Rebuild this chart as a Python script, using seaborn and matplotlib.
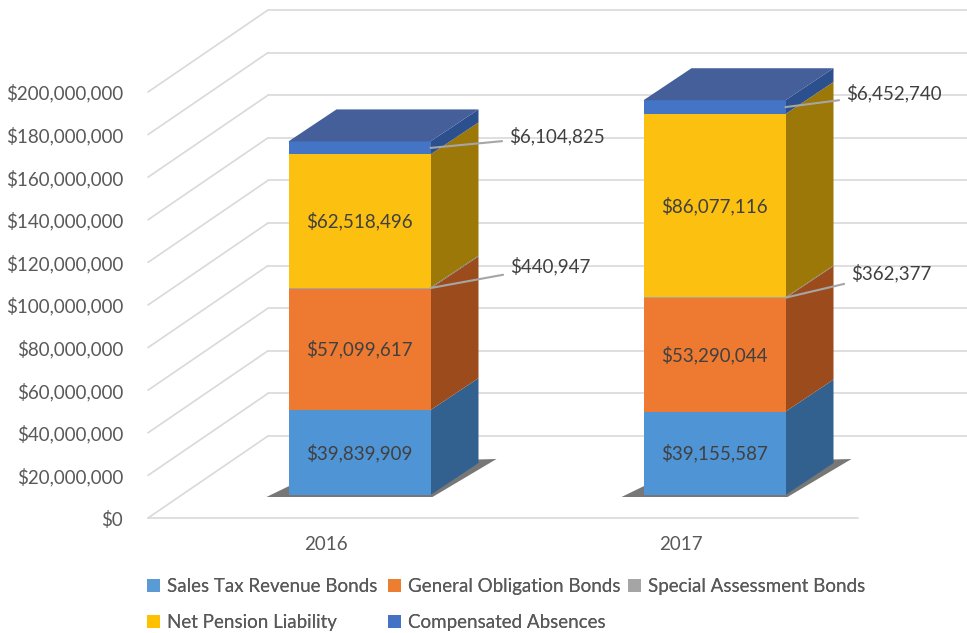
import numpy as np
import pandas as pd
import matplotlib
matplotlib.use("Agg")
import matplotlib.pyplot as plt
import matplotlib.transforms as mtransforms
from matplotlib.patches import Patch
import seaborn as sns

# ---------------- data ----------------
years = ["2016", "2017"]
series_names = ["Sales Tax Revenue Bonds", "General Obligation Bonds",
                "Special Assessment Bonds", "Net Pension Liability",
                "Compensated Absences"]
sales_tax = [39839909, 39155587]
general_obligation = [57099617, 53290044]
special_assessment = [440947, 362377]
net_pension = [62518496, 86077116]
compensated = [6104825, 6452740]
y_ticks = list(range(0, 200000001, 20000000))

series_values = [sales_tax, general_obligation, special_assessment, net_pension, compensated]

# ---------------- style ----------------
front_colors = ["#4f95d6", "#ee7a32", "#a5a5a5", "#fbc010", "#4474c6"]
side_colors = ["#33618f", "#9c4c1c", "#6e6e6e", "#9c7808", "#2c4f8e"]
top_color = "#445f99"
legend_colors = ["#5b9bd5", "#ed7d31", "#a5a5a5", "#ffc000", "#4472c4"]
inside_label = [True, True, False, True, False]
# external label offsets in pixels (per year) for the small series
ext_offsets = {2: [(80, 22), (66, 25)], 4: [(79, 12), (61, 14)]}

sns.set_theme(style="white")
plt.rcParams["font.family"] = ["Lato", "DejaVu Sans"]
FS = 13.5

W, H, DPI = 967, 633, 100
fig = plt.figure(figsize=(W / DPI, H / DPI), dpi=DPI)
ax_left, ax_right, ax_bottom, ax_top = 148, 858, 518, 92
ax = fig.add_axes([ax_left / W, (H - ax_bottom) / H, (ax_right - ax_left) / W, (ax_bottom - ax_top) / H])

SX = (ax_right - ax_left) / 2.0          # px per category unit
SY = (ax_bottom - ax_top) / 200e6        # px per dollar

# offset of the bar front plane and of the back wall relative to the axis front plane (pixels)
bar_tr = mtransforms.offset_copy(ax.transData, fig=fig, x=34, y=23, units="dots")
wall_tr = mtransforms.offset_copy(ax.transData, fig=fig, x=120, y=82, units="dots")
depth_x = 48 / SX
depth_y = 32 / SY
bar_w = 0.4

# cumulative stacks
vals = np.array(series_values, dtype=float)      # (series, year)
cum_top = np.cumsum(vals, axis=0)
cum_bot = cum_top - vals

# ---------------- grid (walls) ----------------
grid_c = "#d9d9d9"
for v in y_ticks:
    ax.plot([-0.5, 2.2], [v, v], transform=wall_tr, color=grid_c, lw=1.2, clip_on=False, zorder=0.5)
    ax.plot([-0.5, -0.5 + 120 / SX], [v, v + 82 / SY], color=grid_c, lw=1.2, clip_on=False, zorder=0.5)
ax.plot([-0.5, 1.5], [0, 0], color=grid_c, lw=1.2, clip_on=False, zorder=0.6)

# ---------------- shadows ----------------
for j in range(len(years)):
    xl, xr = j - bar_w / 2, j + bar_w / 2
    sx = [xl - 22 / SX, xr + 2 / SX, xr + depth_x + 18 / SX, xl + depth_x]
    sy = [-2 / SY, -2 / SY, depth_y + 4 / SY, depth_y]
    ax.fill(sx, sy, color="#4a4a4a", alpha=0.75, lw=0, transform=bar_tr, clip_on=False, zorder=1)

# ---------------- front faces (seaborn bars, layered cumulative) ----------------
for i in reversed(range(len(series_names))):
    df = pd.DataFrame({"year": years, "value": cum_top[i]})
    sns.barplot(data=df, x="year", y="value", color=front_colors[i], saturation=1,
                width=bar_w, errorbar=None, linewidth=0, ax=ax, transform=bar_tr,
                zorder=3 + (len(series_names) - i) * 0.01, clip_on=False)

# ---------------- side and top faces ----------------
for j in range(len(years)):
    xl, xr = j - bar_w / 2, j + bar_w / 2
    for i in range(len(series_names)):
        y0, y1 = cum_bot[i, j], cum_top[i, j]
        ax.fill([xr, xr + depth_x, xr + depth_x, xr], [y0, y0 + depth_y, y1 + depth_y, y1],
                color=side_colors[i], lw=0, transform=bar_tr, clip_on=False, zorder=2.9)
    T = cum_top[-1, j]
    ax.fill([xl, xl + depth_x, xr + depth_x, xr], [T, T + depth_y, T + depth_y, T],
            color=top_color, lw=0, transform=bar_tr, clip_on=False, zorder=3.2)

# ---------------- labels ----------------
txt_c = "#404040"
for i in range(len(series_names)):
    for j in range(len(years)):
        v = series_values[i][j]
        mid = (cum_bot[i, j] + cum_top[i, j]) / 2
        label = f"${v:,.0f}"
        if inside_label[i]:
            ax.text(j, mid, label, transform=bar_tr, ha="center", va="center",
                    fontsize=FS, color=txt_c, zorder=5)
        else:
            dx, dy = ext_offsets[i][j]
            ax.annotate(label, xy=(j + bar_w / 2, mid), xycoords=bar_tr,
                        xytext=(dx, dy), textcoords="offset pixels",
                        ha="left", va="center", fontsize=FS, color="#404040", zorder=5,
                        arrowprops=dict(arrowstyle="-", color="#a6a6a6", lw=1.5,
                                        shrinkA=3, shrinkB=0),
                        annotation_clip=False)

# ---------------- axes ----------------
ax.set_xlim(-0.5, 1.5)
ax.set_ylim(0, 200e6)
ax.set_yticks(y_ticks)
ax.yaxis.set_major_formatter(matplotlib.ticker.FuncFormatter(lambda x, p: f"${x:,.0f}"))
ax.tick_params(axis="y", length=0, pad=18, labelsize=FS, labelcolor="#595959")
ax.tick_params(axis="x", length=0, pad=13, labelsize=FS, labelcolor="#595959")
ax.set_xlabel("")
ax.set_ylabel("")
for s in ax.spines.values():
    s.set_visible(False)
ax.grid(False)
ax.patch.set_alpha(0)

# ---------------- legend (three columns, row-major order) ----------------
handles = [Patch(facecolor=c, edgecolor="none", label=n) for c, n in zip(legend_colors, series_names)]
columns = [[0, 3], [1, 4], [2]]
col_x = [147, 388, 628]
for ks, cx in zip(columns, col_x):
    leg = fig.legend([handles[k] for k in ks], [series_names[k] for k in ks],
                     ncol=1, loc="upper left", bbox_to_anchor=(cx / W, 1 - 578 / H),
                     frameon=False, fontsize=FS, labelcolor="#595959",
                     handlelength=0.7, handleheight=0.7, handletextpad=0.35,
                     labelspacing=1.0, borderaxespad=0, borderpad=0)
    fig.add_artist(leg)

fig.savefig("out.png", dpi=DPI)
